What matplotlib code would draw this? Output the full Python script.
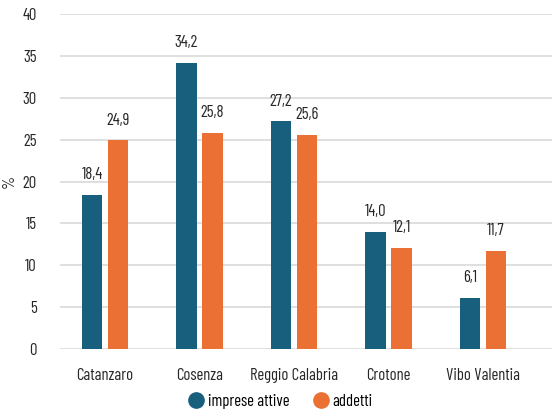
import numpy as np
import matplotlib.pyplot as plt
from matplotlib.lines import Line2D

provinces = ['Catanzaro', 'Cosenza', 'Reggio Calabria', 'Crotone', 'Vibo Valentia']
imprese = [18.4, 34.2, 27.2, 14.0, 6.1]
addetti = [24.9, 25.8, 25.6, 12.1, 11.7]
series_names = ['imprese attive', 'addetti']
colors = ['#185F7E', '#EA7034']

plt.rcParams['font.family'] = ['Barlow Condensed', 'DejaVu Sans']
fs = 12
txt_color = '#262626'

fig = plt.figure(figsize=(5.52, 4.12), dpi=100)
ax = fig.add_axes([60/552, 1 - 349/412, 492/552, 335/412])

x = np.arange(len(provinces))
w = 0.22
off = 0.138
for vals, c, dx in [(imprese, colors[0], -off), (addetti, colors[1], off)]:
    bars = ax.bar(x + dx, vals, width=w, color=c, zorder=3)
    for b, v in zip(bars, vals):
        ax.text(b.get_x() + b.get_width() / 2, v + 1.5, f'{v:.1f}'.replace('.', ','),
                ha='center', va='bottom', fontsize=fs, color=txt_color)

ax.set_ylim(0, 40)
ax.set_yticks(range(0, 41, 5))
ax.set_xlim(-0.476, 4.73)
ax.set_xticks(x)
ax.set_xticklabels(provinces)
ax.grid(axis='y', color='#D9D9D9', linewidth=1.2, zorder=0)
for s in ax.spines.values():
    s.set_visible(False)
ax.tick_params(axis='both', length=0, labelsize=fs, colors=txt_color)
ax.tick_params(axis='y', pad=17)
ax.tick_params(axis='x', pad=14)
ax.set_ylabel('%', fontsize=fs, color=txt_color)
ax.yaxis.set_label_coords(-0.087, 0.5)

handles = [Line2D([], [], marker='o', linestyle='', markersize=11, color=c) for c in colors]
fig.legend(handles, series_names, loc='lower center', bbox_to_anchor=(0.5, -0.028), ncol=2,
           frameon=False, fontsize=fs, handletextpad=-0.3, columnspacing=0.9)

fig.savefig('out.png', dpi=100)
